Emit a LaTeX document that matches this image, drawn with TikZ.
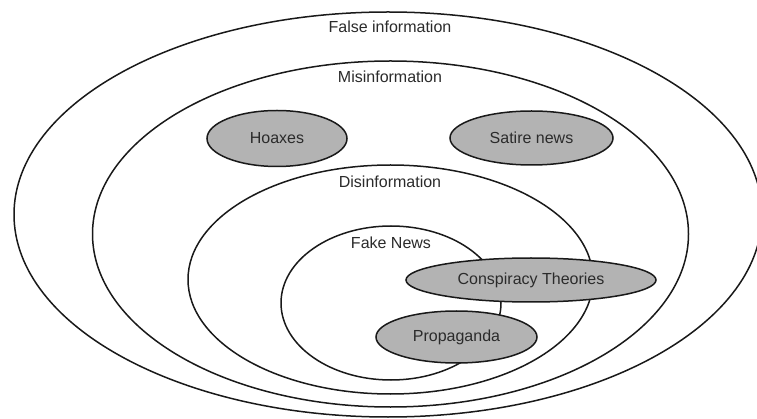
\documentclass[tikz,border=0pt]{standalone}
\usepackage{fontspec}
\setmainfont{Liberation Sans}
\usepackage{tikz}
\usepackage{xcolor}
\usetikzlibrary{shapes.geometric}

\definecolor{textgray}{HTML}{2B2B2B}
\definecolor{bubblegray}{HTML}{B3B3B3}

\tikzset{
  ring/.style={ellipse, draw=black!90, line width=1.5pt, fill=white, inner sep=0pt},
  bubble/.style={ellipse, draw=black!90, line width=1.5pt, fill=bubblegray, inner sep=0pt,
    text=textgray, font=\fontsize{16}{19}\selectfont},
  tag/.style={text=textgray, font=\fontsize{16}{19}\selectfont, inner sep=0pt}
}

\begin{document}
\begin{tikzpicture}[x=1pt, y=-1pt]
  \useasboundingbox (0,0) rectangle (757,419);
  \fill[white] (0,0) rectangle (757,419);
  % nested sets
  \node[ring, minimum width=748pt, minimum height=405pt] (falseinfo) at (388,214.5) {};
  \node[ring, minimum width=596pt, minimum height=346pt] (misinfo) at (390.5,234) {};
  \node[ring, minimum width=405pt, minimum height=229pt] (disinfo) at (390.5,279.5) {};
  \node[ring, minimum width=220pt, minimum height=154pt] (fakenews) at (391,303) {};
  \node[tag] (lfalse) at (390,27) {False information};
  \node[tag] (lmis) at (390,77) {Misinformation};
  \node[tag] (ldis) at (390,182) {Disinformation};
  \node[tag] (lfake) at (391,243) {Fake News};
  % gray bubbles
  \node[bubble, minimum width=140pt, minimum height=56pt] (hoaxes) at (277,138.5) {Hoaxes};
  \node[bubble, minimum width=163pt, minimum height=54pt] (satire) at (531.5,138) {Satire news};
  \node[bubble, minimum width=250pt, minimum height=44pt] (conspiracy) at (531,280) {Conspiracy Theories};
  \node[bubble, minimum width=161pt, minimum height=52pt] (propaganda) at (456.5,337) {Propaganda};
\end{tikzpicture}
\end{document}
